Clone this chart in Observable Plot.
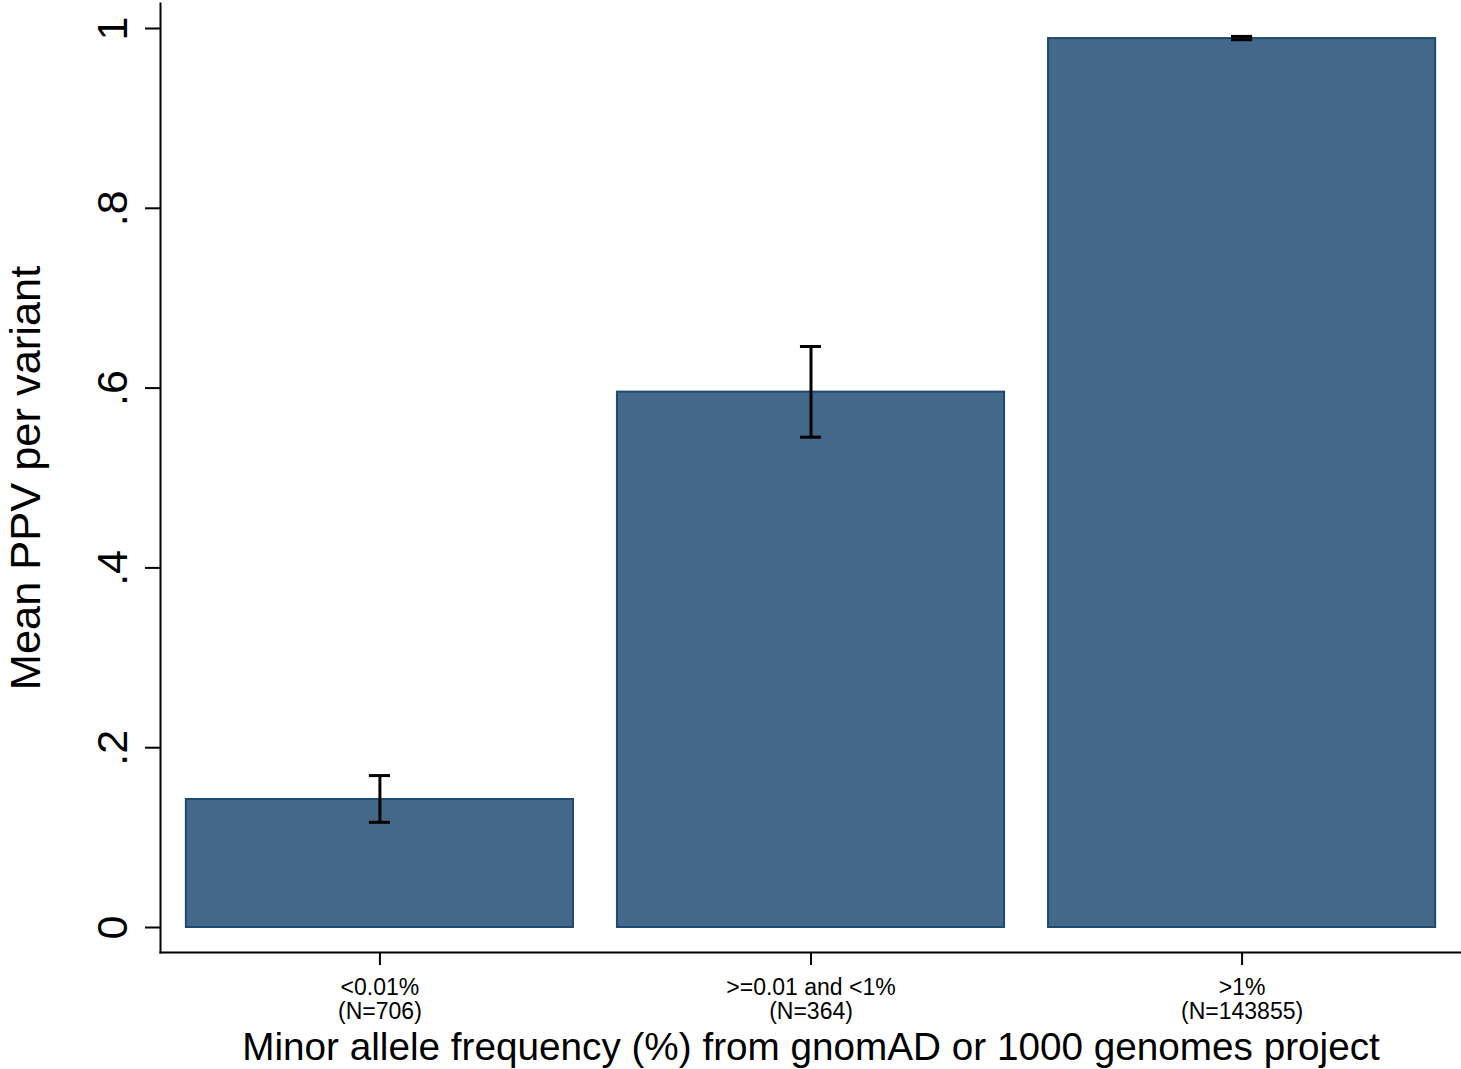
<!DOCTYPE html>
<html>
<head>
<meta charset="utf-8">
<script src="https://cdn.jsdelivr.net/npm/d3@7"></script>
<script src="https://cdn.jsdelivr.net/npm/@observablehq/plot@0.6"></script>
<style>
  html, body { margin: 0; padding: 0; background: #fff; overflow: hidden; }
  #chart svg { display: block; }
</style>
</head>
<body>
<div id="chart"></div>
<script>
// ---- data ----
const categories = ["<0.01%", ">=0.01 and <1%", ">1%"];
const counts = ["(N=706)", "(N=364)", "(N=143855)"];
const meanPPV = [0.1424, 0.5955, 0.9888];
const ciLow = [0.117, 0.5454, 0.9875];
const ciHigh = [0.169, 0.6463, 0.9912];
const yTickValues = [0, 0.2, 0.4, 0.6, 0.8, 1];
const yTickLabels = ["0", ".2", ".4", ".6", ".8", "1"];
const yTitle = "Mean PPV per variant";
const xTitle = "Minor allele frequency (%) from gnomAD or 1000 genomes project";

const rows = categories.map((c, i) => ({cat: c, n: counts[i], mean: meanPPV[i], lo: ciLow[i], hi: ciHigh[i]}));
const yTicks = yTickValues.map((v, i) => ({v, label: yTickLabels[i]}));
const labelOf = Object.fromEntries(categories.map((c, i) => [c, c + "\n" + counts[i]]));

const FONT = "'Liberation Sans', Arial, Helvetica, sans-serif";

const chart = Plot.plot({
  width: 1461,
  height: 1069,
  marginLeft: 160,
  marginRight: 0,
  marginTop: 3,
  marginBottom: 117,
  style: {fontFamily: FONT, color: "#000", background: "#fff"},
  x: {domain: categories, paddingInner: 0.102, paddingOuter: 0.06, round: false, axis: null},
  y: {domain: [-0.0278, 1.0278], axis: null},
  marks: [
    Plot.barY(rows, {x: "cat", y: "mean", fill: "#436889", stroke: "#1f4a70", strokeWidth: 2}),
    Plot.ruleX(rows, {x: "cat", y1: "lo", y2: "hi", stroke: "#000", strokeWidth: 3}),
    Plot.tickY(rows, {x: "cat", y: "lo", stroke: "#000", strokeWidth: 3, insetLeft: 183, insetRight: 183}),
    Plot.tickY(rows, {x: "cat", y: "hi", stroke: "#000", strokeWidth: 3, insetLeft: 183, insetRight: 183}),
    Plot.frame({anchor: "left", stroke: "#000", strokeWidth: 2}),
    Plot.frame({anchor: "bottom", stroke: "#000", strokeWidth: 2}),
    Plot.axisY({ticks: yTickValues, tickSize: 15, tickFormat: () => "", label: null, strokeWidth: 2}),
    Plot.text(yTicks, {y: "v", text: "label", frameAnchor: "left", dx: -47, rotate: -90, fontSize: 43, textAnchor: "middle", lineAnchor: "middle", fill: "#000"}),
    Plot.axisX({tickSize: 13, tickPadding: 13, fontSize: 23, lineHeight: 1.04, tickFormat: d => labelOf[d], label: null, strokeWidth: 2}),
    Plot.text([yTitle], {text: d => d, frameAnchor: "left", dx: -134, rotate: -90, fontSize: 43.4, textAnchor: "middle", lineAnchor: "middle", fill: "#000"}),
    Plot.text([xTitle], {text: d => d, frameAnchor: "bottom", dy: 80, fontSize: 38.7, textAnchor: "middle", lineAnchor: "top", fill: "#000"})
  ]
});
document.getElementById("chart").appendChild(chart);
</script>
</body>
</html>
